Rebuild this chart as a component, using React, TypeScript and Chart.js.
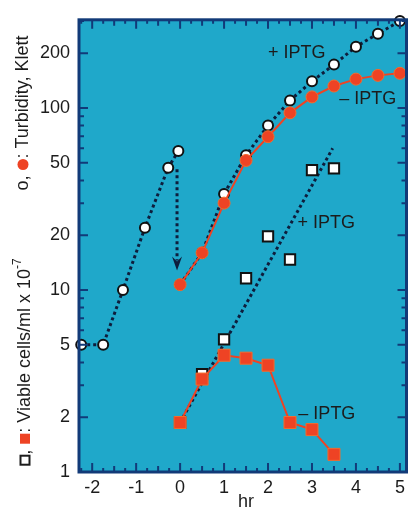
import { useEffect, useRef } from "react";
import { Chart, registerables } from "chart.js";

Chart.register(...registerables);

// ---- data ----
const preHours = [-2.25, -1.75, -1.3, -0.8, -0.27, -0.04];
const preTurbidity = [5, 5, 10, 22, 47, 58];

const hours = [0, 0.5, 1, 1.5, 2, 2.5, 3, 3.5, 4, 4.5, 5];
const turbidityPlus = [10.7, 16, 33.7, 55, 80, 110, 140, 173, 217, 256, 300];
const turbidityMinus = [10.7, 16, 30, 51.5, 69.5, 94, 115, 132, 144, 151, 155];

const cellHours = [0, 0.5, 1, 1.5, 2, 2.5, 3, 3.5];
const cellsPlus = [1.87, 3.45, 5.35, 11.6, 19.7, 14.7, 45.5, 46.6];
const cellsMinus = [1.87, 3.24, 4.38, 4.22, 3.86, 1.87, 1.71, 1.25];

const fitHours = [0, 3.47];
const fitCells = [1.87, 60];

const arrowHour = -0.07;
const arrowFrom = 46;
const arrowTo = 12.8;

const xTickValues = [-2, -1, 0, 1, 2, 3, 4, 5];
const yTickValues = [1, 2, 5, 10, 20, 50, 100, 200];

const noteTexts = ["+ IPTG", "\u2013 IPTG", "+ IPTG", "\u2013 IPTG"];
const noteHours = [2.0, 3.62, 2.67, 2.69];
const noteValues = [201, 112, 23.4, 2.09];

const xTitle = "hr";
const yTitleTop = ": Turbidity, Klett";
const yTitleBottom = ": Viable cells/ml x 10";

// ---- styles ----
const BLUE = "#1fa8ca";
const NAVY = "#123a78";
const RED = "#ee4324";
const DOT = "#0e1d3c";
const TEXT = "#1c1c1c";
const FONT = "Liberation Sans, Arial, sans-serif";

const pts = (xs: number[], ys: number[]) => xs.map((x, i) => ({ x, y: ys[i] }));

export default function App() {
  const ref = useRef<HTMLCanvasElement | null>(null);

  useEffect(() => {
    document.body.style.margin = "0";
    const canvas = ref.current;
    if (!canvas) return;

    const decor = {
      id: "decor",
      beforeDraw(chart: any) {
        const { ctx, chartArea: a } = chart;
        ctx.save();
        ctx.fillStyle = BLUE;
        ctx.fillRect(a.left, a.top, a.right - a.left, a.bottom - a.top);
        ctx.restore();
      },
      afterDatasetsDraw(chart: any) {
        const { ctx } = chart;
        const xs = chart.scales.x;
        const ys = chart.scales.y;
        const ax = xs.getPixelForValue(arrowHour);
        const y0 = ys.getPixelForValue(arrowFrom);
        const y1 = ys.getPixelForValue(arrowTo);
        ctx.save();
        ctx.strokeStyle = DOT;
        ctx.lineWidth = 3;
        ctx.setLineDash([3, 3]);
        ctx.beginPath();
        ctx.moveTo(ax, y0);
        ctx.lineTo(ax, y1 - 10);
        ctx.stroke();
        ctx.setLineDash([]);
        ctx.fillStyle = DOT;
        ctx.beginPath();
        ctx.moveTo(ax - 5, y1 - 14);
        ctx.lineTo(ax, y1 - 9);
        ctx.lineTo(ax + 5, y1 - 14);
        ctx.lineTo(ax, y1);
        ctx.closePath();
        ctx.fill();
        ctx.restore();
      },
      afterDraw(chart: any) {
        const { ctx, chartArea: a } = chart;
        const xs = chart.scales.x;
        const ys = chart.scales.y;
        ctx.save();
        // ticks
        ctx.strokeStyle = NAVY;
        ctx.lineWidth = 2;
        ctx.beginPath();
        for (let k = 0; k < 3; k++) {
          for (let m = 1; m <= 9; m++) {
            const v = m * Math.pow(10, k);
            if (v < 1 || v > 305) continue;
            const y = ys.getPixelForValue(v);
            const len = yTickValues.includes(v) ? 9 : 5;
            ctx.moveTo(a.left, y);
            ctx.lineTo(a.left + len, y);
            ctx.moveTo(a.right, y);
            ctx.lineTo(a.right - len, y);
          }
        }
        for (let q = -9; q <= 20; q++) {
          const v = q / 4;
          const x = xs.getPixelForValue(v);
          if (x < a.left + 2 || x > a.right - 2) continue;
          const len = q % 4 === 0 ? 9 : q % 2 === 0 ? 6 : 4;
          ctx.moveTo(x, a.bottom);
          ctx.lineTo(x, a.bottom - len);
          ctx.moveTo(x, a.top);
          ctx.lineTo(x, a.top + len);
        }
        ctx.stroke();
        // border
        ctx.lineWidth = 3;
        ctx.strokeRect(a.left, a.top, a.right - a.left, a.bottom - a.top);

        // notes
        ctx.fillStyle = TEXT;
        ctx.font = `18px ${FONT}`;
        ctx.textAlign = "left";
        ctx.textBaseline = "middle";
        noteTexts.forEach((t, i) => {
          ctx.fillText(t, xs.getPixelForValue(noteHours[i]), ys.getPixelForValue(noteValues[i]));
        });

        // x title
        ctx.textAlign = "center";
        ctx.fillText(xTitle, xs.getPixelForValue(1.5), 502);

        // y titles (rotated)
        const drawRot = (cx: number, cy: number, parts: any[]) => {
          ctx.save();
          ctx.translate(cx, cy);
          ctx.rotate(-Math.PI / 2);
          ctx.font = `18px ${FONT}`;
          ctx.textAlign = "left";
          ctx.textBaseline = "middle";
          const widths = parts.map((p) => {
            if (p.t !== undefined) {
              ctx.font = p.small ? `12px ${FONT}` : `18px ${FONT}`;
              return ctx.measureText(p.t).width;
            }
            return p.w;
          });
          const total = widths.reduce((s, w) => s + w, 0);
          let x = -total / 2;
          parts.forEach((p, i) => {
            if (p.t !== undefined) {
              ctx.font = p.small ? `12px ${FONT}` : `18px ${FONT}`;
              ctx.fillStyle = TEXT;
              ctx.fillText(p.t, x, p.small ? -7 : 0);
            } else if (p.g === "circle") {
              ctx.fillStyle = RED;
              ctx.beginPath();
              ctx.arc(x + p.w / 2, 0, 5.5, 0, Math.PI * 2);
              ctx.fill();
            } else if (p.g === "rect") {
              ctx.fillStyle = RED;
              ctx.fillRect(x + 1, -5, 10, 10);
            } else if (p.g === "orect") {
              ctx.strokeStyle = TEXT;
              ctx.lineWidth = 2;
              ctx.strokeRect(x + 1, -4.5, 9, 9);
            }
            x += widths[i];
          });
          ctx.restore();
        };
        drawRot(23, 113, [
          { t: "o, " },
          { g: "circle", w: 12 },
          { t: yTitleTop },
        ]);
        drawRot(25, 362, [
          { g: "orect", w: 11 },
          { t: ", " },
          { g: "rect", w: 12 },
          { t: yTitleBottom },
          { t: "-7", small: true },
        ]);
        ctx.restore();
      },
    };

    const openCircle = {
      pointStyle: "circle",
      pointRadius: 5,
      pointBackgroundColor: "#ffffff",
      pointBorderColor: "#111111",
      pointBorderWidth: 2,
    };

    const chart = new Chart(canvas, {
      type: "line",
      data: {
        datasets: [
          {
            data: pts(hours, turbidityMinus),
            borderColor: RED,
            borderWidth: 2,
            pointStyle: "circle",
            pointRadius: 6,
            pointBackgroundColor: RED,
            pointBorderColor: "#f36b2c",
            pointBorderWidth: 1,
            order: 0,
          },
          {
            data: pts(cellHours, cellsMinus),
            borderColor: RED,
            borderWidth: 2,
            pointStyle: "rect",
            pointRadius: 8.5,
            pointBackgroundColor: RED,
            pointBorderColor: "#f36b2c",
            pointBorderWidth: 1,
            order: 1,
          },
          {
            data: pts(cellHours, cellsPlus),
            showLine: false,
            pointStyle: "rect",
            pointRadius: 7.3,
            pointBackgroundColor: "#ffffff",
            pointBorderColor: "#111111",
            pointBorderWidth: 2,
            order: 2,
          },
          {
            data: pts(hours, turbidityPlus),
            borderColor: DOT,
            borderWidth: 3,
            borderDash: [3, 3],
            ...openCircle,
            order: 3,
          },
          {
            data: pts(preHours, preTurbidity),
            borderColor: DOT,
            borderWidth: 3,
            borderDash: [3, 3],
            ...openCircle,
            order: 3,
          },
          {
            data: pts(fitHours, fitCells),
            borderColor: DOT,
            borderWidth: 3,
            borderDash: [3, 3],
            pointRadius: 0,
            order: 4,
          },
        ],
      } as any,
      options: {
        animation: false,
        responsive: false,
        devicePixelRatio: 1,
        clip: false as any,
        layout: { padding: { top: 15, right: 2, left: 0, bottom: 0 } },
        plugins: { legend: { display: false }, tooltip: { enabled: false } },
        elements: { line: { tension: 0 } },
        scales: {
          x: {
            type: "linear",
            min: -2.3,
            max: 5.15,
            grid: { display: false, drawTicks: false },
            border: { display: false },
            afterBuildTicks: (s: any) => {
              s.ticks = xTickValues.map((value) => ({ value }));
            },
            afterFit: (s: any) => {
              s.height = 38;
            },
            ticks: {
              autoSkip: false,
              maxRotation: 0,
              padding: 5,
              color: TEXT,
              font: { family: FONT, size: 18 },
              callback: (v: any) => String(v),
            },
          },
          y: {
            type: "logarithmic",
            min: 1,
            max: 305,
            grid: { display: false, drawTicks: false },
            border: { display: false },
            afterBuildTicks: (s: any) => {
              s.ticks = yTickValues.map((value) => ({ value }));
            },
            afterFit: (s: any) => {
              s.width = 79;
            },
            ticks: {
              autoSkip: false,
              padding: 9,
              color: TEXT,
              font: { family: FONT, size: 18 },
              callback: (v: any) => String(v),
            },
          },
        },
      } as any,
      plugins: [decor],
    });

    return () => chart.destroy();
  }, []);

  return (
    <div style={{ width: 416, height: 510 }}>
      <canvas ref={ref} width={416} height={510} style={{ width: 416, height: 510, display: "block" }} />
    </div>
  );
}
